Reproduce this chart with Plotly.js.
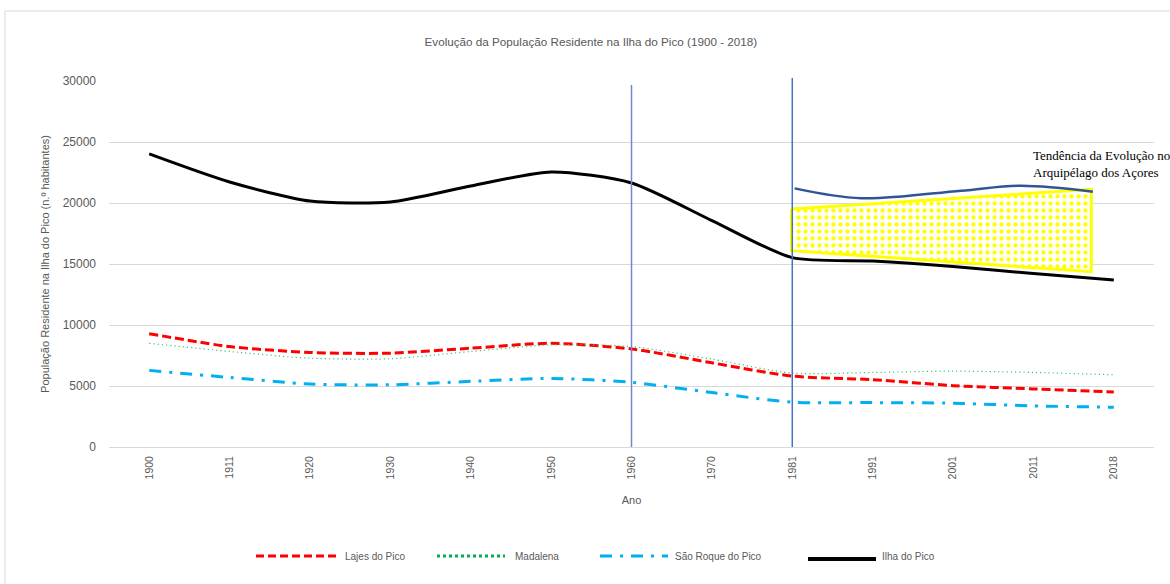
<!DOCTYPE html>
<html>
<head>
<meta charset="utf-8">
<script src="https://cdn.plot.ly/plotly-3.0.1.min.js"></script>
<style>html,body{margin:0;padding:0;background:#fff}#chart{width:1170px;height:584px}</style>
</head>
<body>
<div id="chart"></div>
<script>
// ---- data ----
const years = ['1900','1911','1920','1930','1940','1950','1960','1970','1981','1991','2001','2011','2018'];
const lajes    = [9290, 8230, 7750, 7690, 8100, 8500, 8040, 6900, 5810, 5520, 5030, 4760, 4510];
const madalena = [8500, 7830, 7280, 7230, 7830, 8370, 8230, 7200, 6060, 6110, 6220, 6110, 5920];
const saoRoque = [6280, 5700, 5160, 5100, 5380, 5620, 5300, 4460, 3670, 3640, 3590, 3370, 3260];
const ilha     = [24020, 21720, 20160, 20080, 21390, 22540, 21640, 18560, 15520, 15250, 14800, 14220, 13690];
const seriesNames = ['Lajes do Pico', 'Madalena', 'São Roque do Pico', 'Ilha do Pico'];
// hand-drawn trend of the archipelago (positions in category index units)
const trendX = [8.03, 8.86, 10.1, 10.85, 11.74];
const trendY = [21200, 20390, 21010, 21420, 20930];
const bandX = [7.99, 11.72, 11.72, 7.99, 7.99];
const bandY = [19510, 21120, 14370, 16090, 19510];
const markerYears = ['1960', '1981'];
const trendLabel = 'Tendência da Evolução no<br>Arquipélago dos Açores';
const chartTitle = 'Evolução da População Residente na Ilha do Pico (1900 - 2018)';

const idx = years.map((_, i) => i);
const FONT = 'Liberation Sans, Arial, sans-serif';
const GREY = '#595959';

const styles = [
  {color: '#ff0000', width: 3, dash: '9px,4px'},
  {color: '#3cc47a', width: 1.2, dash: '1.2px,3px'},
  {color: '#00b0f0', width: 3, dash: '12px,8px,3px,8px'},
  {color: '#000000', width: 3, dash: 'solid'}
];
const values = [lajes, madalena, saoRoque, ilha];

const traces = [
  {x: bandX, y: bandY, type: 'scatter', mode: 'lines', fill: 'toself',
   line: {color: '#ffff00', width: 3}, fillcolor: 'rgba(255,255,255,0)',
   fillpattern: {shape: '.', fgcolor: '#ffff00', bgcolor: '#ffffff', size: 7, solidity: 0.3},
   hoverinfo: 'skip', showlegend: false},
  {x: trendX, y: trendY, type: 'scatter', mode: 'lines',
   line: {color: '#2f5597', width: 2.5, shape: 'spline', smoothing: 1},
   hoverinfo: 'skip', showlegend: false}
];
values.forEach((v, k) => {
  traces.push({x: idx, y: v, name: seriesNames[k], type: 'scatter', mode: 'lines',
    line: Object.assign({shape: 'spline', smoothing: 0.7}, styles[k]), showlegend: false});
});

// pixel -> paper helpers for the plot box (l=109, plot width 1045, bottom 447, height 366)
const px = p => (p - 109) / 1045;
const py = p => (447 - p) / 366;

const shapes = [
  {type: 'rect', xref: 'paper', yref: 'paper', x0: px(5), x1: px(1180), y0: py(595), y1: py(11),
   line: {color: '#d9d9d9', width: 1}, fillcolor: 'rgba(0,0,0,0)', layer: 'below'},
  {type: 'line', xref: 'x', yref: 'paper', x0: years.indexOf(markerYears[0]), x1: years.indexOf(markerYears[0]),
   y0: 0, y1: py(85), line: {color: '#7088cc', width: 1.5}},
  {type: 'line', xref: 'x', yref: 'paper', x0: years.indexOf(markerYears[1]), x1: years.indexOf(markerYears[1]),
   y0: 0, y1: py(78), line: {color: '#4472c4', width: 1.5}}
];
const annotations = [
  {xref: 'paper', yref: 'paper', x: px(1031), y: py(146), xanchor: 'left', yanchor: 'top', align: 'left',
   text: trendLabel, showarrow: false, font: {family: 'Liberation Serif, Times New Roman, serif', size: 13, color: '#000'}}
];
// custom legend
const legendPos = [
  {x0: 256, x1: 336, tx: 343, y: 556, lw: 3, dash: '8px,4px', c: '#ff0000'},
  {x0: 437, x1: 505, tx: 513, y: 556, lw: 3, dash: '3px,3px', c: '#00b050'},
  {x0: 600, x1: 668, tx: 673, y: 556, lw: 3, dash: '12px,8px,3px,8px', c: '#00b0f0'},
  {x0: 808, x1: 876, tx: 880, y: 559, lw: 4, dash: 'solid', c: '#000000'}
];
legendPos.forEach((p, k) => {
  shapes.push({type: 'line', xref: 'paper', yref: 'paper', x0: px(p.x0), x1: px(p.x1), y0: py(p.y), y1: py(p.y),
    line: {color: p.c, width: p.lw, dash: p.dash}});
  annotations.push({xref: 'paper', yref: 'paper', x: px(p.tx), y: py(556), xanchor: 'left', yanchor: 'middle',
    text: seriesNames[k], showarrow: false, font: {family: FONT, size: 10, color: GREY}});
});

const layout = {
  width: 1170, height: 584,
  margin: {l: 109, r: 16, t: 81, b: 137},
  paper_bgcolor: '#ffffff', plot_bgcolor: '#ffffff',
  font: {family: FONT, color: GREY},
  title: {text: chartTitle, x: 0.505, xanchor: 'center', yref: 'container', y: 1 - 42 / 584, yanchor: 'middle',
    font: {family: FONT, size: 11.7, color: GREY}},
  showlegend: false,
  xaxis: {range: [-0.5, 12.5], tickvals: idx, ticktext: years, tickangle: -90,
    showgrid: false, zeroline: false, showline: false, ticks: '', ticklabelstandoff: 6,
    tickfont: {family: FONT, size: 10.5, color: GREY},
    title: {text: 'Ano', standoff: 17, font: {family: FONT, size: 11, color: GREY}}},
  yaxis: {range: [0, 30000], tick0: 0, dtick: 5000, tickformat: 'd',
    showgrid: true, gridcolor: '#d9d9d9', gridwidth: 1,
    zeroline: true, zerolinecolor: '#d9d9d9', zerolinewidth: 1, showline: false, ticks: '', ticklabelstandoff: 12,
    tickfont: {family: FONT, size: 12, color: GREY},
    title: {text: 'População Residente na Ilha do Pico (n.º habitantes)', standoff: 10,
      font: {family: FONT, size: 11, color: GREY}}},
  shapes: shapes,
  annotations: annotations
};

Plotly.newPlot('chart', traces, layout, {displayModeBar: false, staticPlot: true});
</script>
</body>
</html>
